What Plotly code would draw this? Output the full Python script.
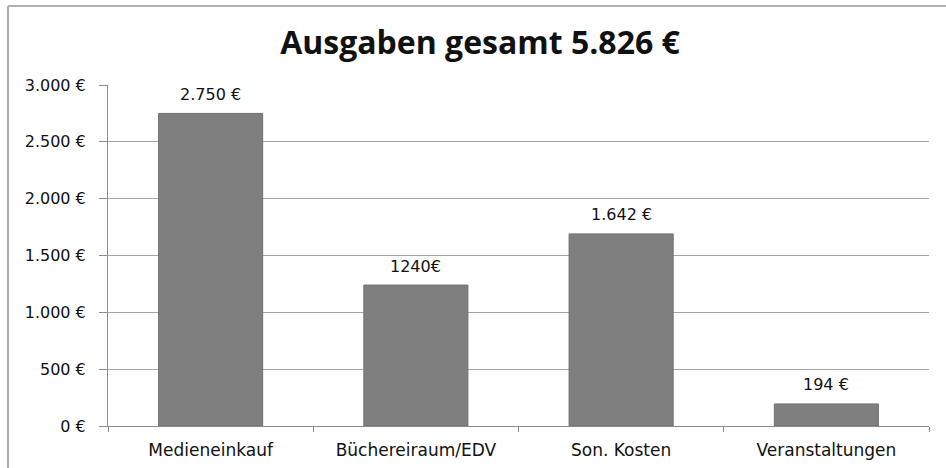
import plotly.graph_objects as go

categories = ["Medieneinkauf", "Büchereiraum/EDV", "Son. Kosten", "Veranstaltungen"]
values = [2750, 1240, 1690, 194]
value_labels = ["2.750 €", "1240€", "1.642 €", "194 €"]
tick_vals = [0, 500, 1000, 1500, 2000, 2500, 3000]
tick_text = ["0 €", "500 €", "1.000 €", "1.500 €", "2.000 €", "2.500 €", "3.000 €"]
title = "Ausgaben gesamt 5.826 €"

W, H = 946, 468
ml, mr, mt, mb = 108, 17, 85, 42
pw, ph = W - ml - mr, H - mt - mb


def px_x(p):
    return (p - ml) / pw


def px_y(p):
    return (H - mb - p) / ph


label_font = dict(family="DejaVu Sans", size=16, color="#111111")

fig = go.Figure(go.Bar(
    x=categories, y=values,
    marker=dict(color="#7f7f7f", line=dict(color="#707070", width=1)),
    width=0.507,
))

for c, v, t in zip(categories, values, value_labels):
    fig.add_annotation(x=c, y=v, text=t, showarrow=False, xanchor="center",
                       yanchor="middle", yshift=19, font=label_font)

fig.update_layout(
    width=W, height=H,
    margin=dict(l=ml, r=mr, t=mt, b=mb, autoexpand=False),
    paper_bgcolor="white", plot_bgcolor="white",
    showlegend=False,
    title=dict(text=title, x=480 / W, xref="container", xanchor="center",
               y=1 - 43 / H, yref="container", yanchor="middle",
               font=dict(family="Open Sans", size=32, color="#111111", weight="bold")),
    xaxis=dict(showgrid=False, showline=True, linecolor="#8c8c8c", linewidth=1,
               ticks="outside", tickson="boundaries", ticklen=5, tickcolor="#8c8c8c",
               ticklabelstandoff=9, automargin=False,
               tickfont=dict(family="DejaVu Sans", size=17, color="#111111")),
    yaxis=dict(range=[0, 3000], tickvals=tick_vals, ticktext=tick_text,
               showgrid=True, gridcolor="#a6a6a6", gridwidth=1,
               showline=True, linecolor="#8c8c8c", linewidth=1,
               ticks="outside", ticklen=8, tickcolor="#8c8c8c",
               ticklabelstandoff=10, automargin=False,
               tickfont=dict(family="DejaVu Sans", size=16, color="#111111"),
               zeroline=False),
    shapes=[
        dict(type="line", xref="paper", yref="paper",
             x0=px_x(8), x1=px_x(W + 5), y0=px_y(6), y1=px_y(6),
             line=dict(color="#b0b0b0", width=2), layer="above"),
        dict(type="line", xref="paper", yref="paper",
             x0=px_x(8), x1=px_x(8), y0=px_y(6), y1=px_y(H + 5),
             line=dict(color="#b0b0b0", width=2), layer="above"),
    ],
)

fig.write_html("out.html", config={"displayModeBar": False},
               post_script="document.body.style.margin='0';document.body.style.padding='0';")
